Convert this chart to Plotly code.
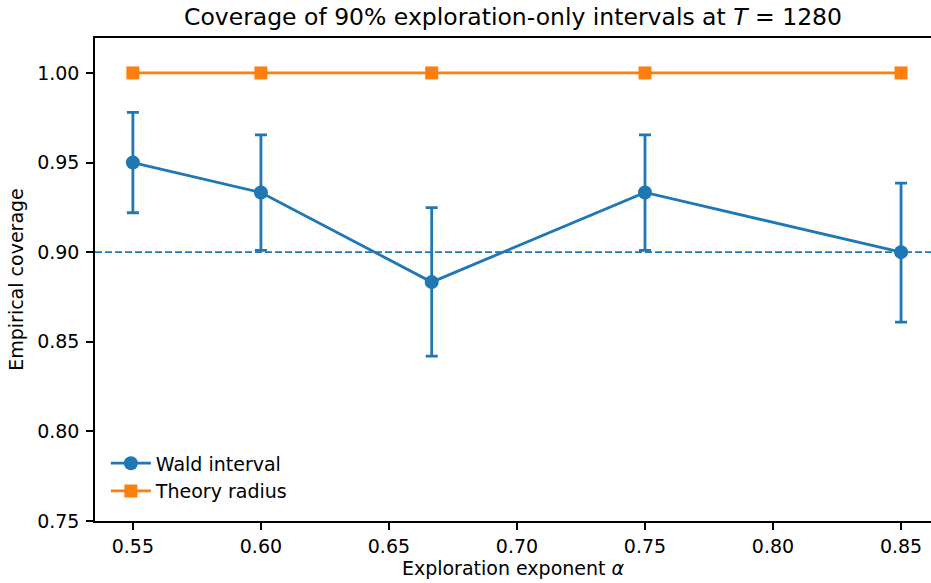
import plotly.graph_objects as go

alpha = [0.55, 0.60, 0.6667, 0.75, 0.85]
wald = [0.950, 0.9333, 0.8833, 0.9333, 0.900]
wald_lo = [0.922, 0.901, 0.842, 0.901, 0.861]
wald_hi = [0.978, 0.9655, 0.9248, 0.9655, 0.9385]
theory = [1.0, 1.0, 1.0, 1.0, 1.0]
target = 0.90

C0 = "#1f77b4"
C1 = "#ff7f0e"
FONT = "DejaVu Sans"
FS = 19

fig = go.Figure()

fig.add_hline(y=target, line=dict(color=C0, width=1.8, dash="7px,3px"), layer="below")

fig.add_trace(go.Scatter(
    x=alpha, y=wald, mode="lines+markers", name="Wald interval",
    line=dict(color=C0, width=2.8),
    marker=dict(symbol="circle", size=14, color=C0),
    error_y=dict(type="data", symmetric=False,
                 array=[h - v for h, v in zip(wald_hi, wald)],
                 arrayminus=[v - l for v, l in zip(wald, wald_lo)],
                 color=C0, thickness=2.8, width=6),
))
fig.add_trace(go.Scatter(
    x=alpha, y=theory, mode="lines+markers", name="Theory radius",
    line=dict(color=C1, width=2.8),
    marker=dict(symbol="square", size=13, color=C1),
    error_y=dict(type="data", array=[0] * len(theory), color=C1, thickness=2.8, width=6),
))

fig.update_layout(
    width=931, height=583,
    margin=dict(l=95, r=0, t=38, b=62, autoexpand=False),
    paper_bgcolor="white", plot_bgcolor="white",
    font=dict(family=FONT, size=FS, color="black"),
    title=dict(text="Coverage of 90% exploration-only intervals at <i>T</i> = 1280",
               x=513 / 931, xanchor="center", xref="container",
               y=1 - 17 / 583, yanchor="middle", yref="container",
               font=dict(size=23.5, family=FONT)),
    showlegend=True,
    legend=dict(x=0.013, y=0.022, xanchor="left", yanchor="bottom",
                bgcolor="rgba(255,255,255,0)", font=dict(size=FS, family=FONT),
                itemwidth=40, tracegroupgap=0),
)
fig.update_xaxes(
    range=[0.5352, 0.8617], tickmode="array",
    tickvals=[0.55, 0.60, 0.65, 0.70, 0.75, 0.80, 0.85],
    ticktext=["0.55", "0.60", "0.65", "0.70", "0.75", "0.80", "0.85"],
    ticks="outside", ticklen=7, tickwidth=1.5, tickcolor="black",
    showline=True, linecolor="black", linewidth=1.5, mirror=True,
    showgrid=False, zeroline=False, automargin=False,
    title=dict(text="Exploration exponent <i>α</i>", font=dict(size=FS), standoff=4),
    tickfont=dict(size=FS),
)
fig.update_yaxes(
    range=[0.75, 1.0195], tickmode="array",
    tickvals=[0.75, 0.80, 0.85, 0.90, 0.95, 1.00],
    ticktext=["0.75", "0.80", "0.85", "0.90", "0.95", "1.00"],
    ticks="outside", ticklen=7, tickwidth=1.5, tickcolor="black",
    showline=True, linecolor="black", linewidth=1.5, mirror=False,
    showgrid=False, zeroline=False, automargin=False,
    ticklabelstandoff=3,
    title=dict(text="Empirical coverage", font=dict(size=FS), standoff=8),
    tickfont=dict(size=FS),
)

fig.write_html(
    "out.html",
    config={"displayModeBar": False},
    post_script="document.body.style.margin='0';document.body.style.overflow='hidden';",
)
